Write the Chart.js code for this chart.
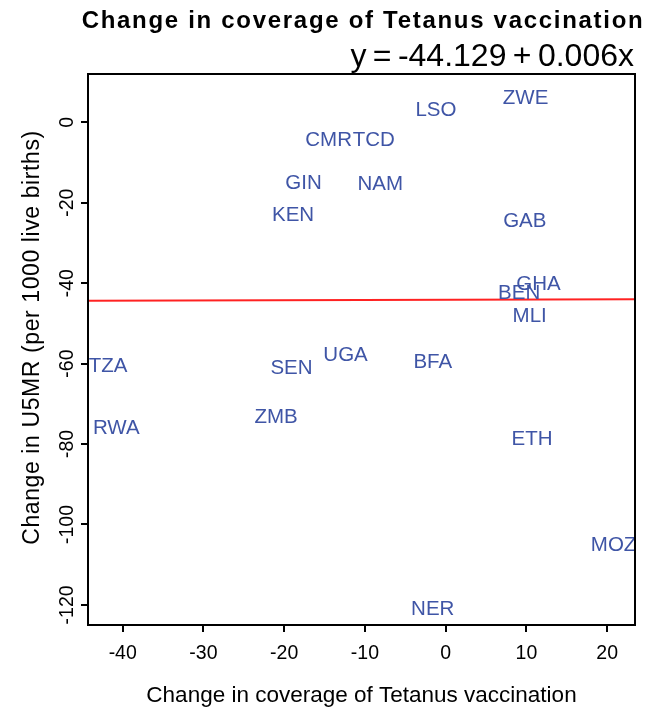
<!DOCTYPE html>
<html lang="en">
<head>
<meta charset="UTF-8">
<title>Change in coverage of Tetanus vaccination</title>
<style>
    body { margin: 0; background: #fff; }
</style>
<script src="https://cdn.jsdelivr.net/npm/chart.js"></script>
</head>
<body>
<canvas id="chart" width="649" height="710"></canvas>
<script>
    // country codes, change in tetanus coverage (x) and change in U5MR (y)
    const countries = ['ZWE', 'LSO', 'CMR', 'TCD', 'GIN', 'NAM', 'KEN', 'GAB', 'GHA', 'BEN',
                       'MLI', 'TZA', 'RWA', 'SEN', 'UGA', 'ZMB', 'BFA', 'ETH', 'MOZ', 'NER'];
    const coverageChange = [9.9, -1.2, -14.5, -8.9, -17.6, -8.1, -18.9, 9.8, 11.5, 9.1,
                            10.4, -41.8, -40.8, -19.1, -12.4, -21.0, -1.6, 10.7, 20.8, -1.6];
    const u5mrChange = [6.0, 2.9, -4.6, -4.6, -15.1, -15.5, -23.2, -24.6, -40.4, -42.6,
                        -48.2, -60.8, -76.1, -61.3, -57.9, -73.4, -59.8, -78.9, -105.1, -121.1];

    // fitted line y = a + b x
    const fitIntercept = -44.129;
    const fitSlope = 0.006;
    const fitRange = [-45, 24];

    const xTicks = [-40, -30, -20, -10, 0, 10, 20];
    const yTicks = [0, -20, -40, -60, -80, -100, -120];

    const FONT = "'Liberation Sans', Arial, sans-serif";

    // text labels drawn at each point position
    const pointLabels = {
        id: 'pointLabels',
        afterDatasetsDraw(chart) {
            const ctx = chart.ctx;
            const meta = chart.getDatasetMeta(0);
            ctx.save();
            ctx.font = '20.5px ' + FONT;
            ctx.fillStyle = '#3f55a6';
            ctx.textAlign = 'center';
            ctx.textBaseline = 'middle';
            meta.data.forEach((pt, i) => {
                ctx.fillText(countries[i], pt.x, pt.y);
            });
            ctx.restore();
        }
    };

    // plot frame, titles and y axis title
    const frame = {
        id: 'frame',
        afterDraw(chart) {
            const ctx = chart.ctx;
            const a = chart.chartArea;
            ctx.save();
            ctx.strokeStyle = '#000';
            ctx.lineWidth = 2;
            ctx.strokeRect(a.left, a.top, a.right - a.left, a.bottom - a.top);

            ctx.fillStyle = '#000';
            ctx.textBaseline = 'alphabetic';
            ctx.font = 'bold 24px ' + FONT;
            ctx.letterSpacing = '1.7px';
            ctx.textAlign = 'center';
            ctx.fillText('Change in coverage of Tetanus vaccination', 363, 28);

            ctx.letterSpacing = '0px';
            ctx.font = '32px ' + FONT;
            ctx.textAlign = 'right';
            ctx.fillText('y\u2009=\u2009-44.129\u2009+\u20090.006x', 634, 66);

            ctx.translate(39, 337.5);
            ctx.rotate(-Math.PI / 2);
            ctx.font = '23px ' + FONT;
            ctx.letterSpacing = '0.6px';
            ctx.textAlign = 'center';
            ctx.fillText('Change in U5MR (per 1000 live births)', 0, 0);
            ctx.restore();
        }
    };

    new Chart(document.getElementById('chart'), {
        data: {
            datasets: [{
                type: 'scatter',
                data: countries.map((c, i) => ({x: coverageChange[i], y: u5mrChange[i]})),
                pointRadius: 0,
                pointHoverRadius: 0
            }, {
                type: 'line',
                data: fitRange.map(x => ({x: x, y: fitIntercept + fitSlope * x})),
                borderColor: '#ff2222',
                borderWidth: 2,
                pointRadius: 0,
                fill: false
            }]
        },
        options: {
            responsive: false,
            animation: false,
            devicePixelRatio: 1,
            layout: { padding: { top: 74, right: 14, left: 0, bottom: 0 } },
            plugins: {
                legend: { display: false },
                tooltip: { enabled: false },
                title: { display: false }
            },
            scales: {
                x: {
                    type: 'linear',
                    min: -44.3,
                    max: 23.45,
                    afterBuildTicks: s => { s.ticks = xTicks.map(v => ({value: v})); },
                    afterFit: s => { s.height = 85; },
                    grid: { drawOnChartArea: false, color: '#000', lineWidth: 2, tickLength: 7 },
                    border: { display: true, color: '#000', width: 2 },
                    ticks: {
                        color: '#000',
                        font: { family: FONT, size: 19.5 },
                        padding: 9.5,
                        maxRotation: 0
                    },
                    title: {
                        display: true,
                        text: 'Change in coverage of Tetanus vaccination',
                        color: '#000',
                        font: { family: FONT, size: 22.5 },
                        padding: { top: 0, bottom: 1 }
                    }
                },
                y: {
                    type: 'linear',
                    min: -125,
                    max: 12,
                    afterBuildTicks: s => { s.ticks = yTicks.map(v => ({value: v})); },
                    afterFit: s => { s.width = 88; },
                    grid: { drawOnChartArea: false, color: '#000', lineWidth: 2, tickLength: 7 },
                    border: { display: true, color: '#000', width: 2 },
                    ticks: {
                        color: '#000',
                        font: { family: FONT, size: 19.5 },
                        minRotation: 90,
                        maxRotation: 90,
                        crossAlign: 'center',
                        padding: -6
                    }
                }
            }
        },
        plugins: [pointLabels, frame]
    });
</script>
</body>
</html>
